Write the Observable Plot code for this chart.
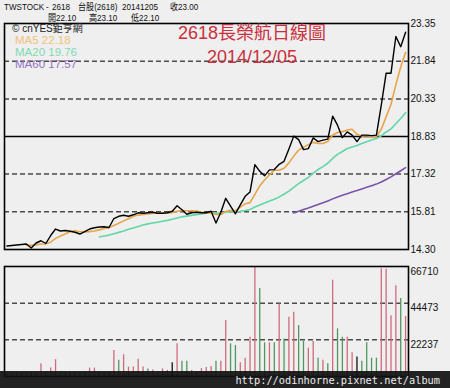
<!DOCTYPE html>
<html><head><meta charset="utf-8">
<script src="https://cdn.jsdelivr.net/npm/d3@7"></script>
<script src="https://cdn.jsdelivr.net/npm/@observablehq/plot@0.6"></script>
<style>
body{margin:0;background:#efefef;}
#wrap{position:relative;width:450px;height:388px;overflow:hidden;background:#efefef;font-family:"Liberation Sans",Arial,"Noto Sans CJK TC",sans-serif;}
#wrap svg{position:absolute;left:0;}
.t{position:absolute;white-space:pre;z-index:2;}
.h{font-size:9.5px;line-height:9px;height:9px;color:#111;transform:scaleX(0.85);transform-origin:0 50%;}
.ma{font-size:11.5px;line-height:12px;left:15px;}
.title{left:152px;width:200px;text-align:center;font-size:18px;line-height:18px;color:#c9303c;}
#foot{position:absolute;left:0;top:371px;width:450px;height:17px;background:rgba(18,18,18,0.93);z-index:3;}
#foot span{position:absolute;right:10px;top:4px;font-family:"DejaVu Sans Mono",monospace;font-size:10.3px;line-height:10px;color:#ececec;}
</style></head><body><div id="wrap">
<div class="t h" style="left:4px;top:2px">TWSTOCK</div>
<div class="t h" style="left:46px;top:2px">-</div>
<div class="t h" style="left:52px;top:2px">2618</div>
<div class="t h" style="left:78px;top:2px">台股(2618)</div>
<div class="t h" style="left:122px;top:2px">20141205</div>
<div class="t h" style="left:170px;top:2px">收23.00</div>
<div class="t h" style="left:48px;top:13px">開22.10</div>
<div class="t h" style="left:89px;top:13px">高23.10</div>
<div class="t h" style="left:131px;top:13px">低22.10</div>
<div class="t" style="left:12px;top:24px;font-size:10px;line-height:10px;color:#222">© cnYES鉅亨網</div>
<div class="t ma" style="top:34px;color:#efc27a">MA5 22.18</div>
<div class="t ma" style="top:46px;color:#7fd9b4">MA20 19.76</div>
<div class="t ma" style="top:58px;color:#9272bf">MA60 17.57</div>
<div class="t title" style="top:24px">2618長榮航日線圖</div>
<div class="t title" style="top:48px">2014/12/05</div>
<div id="foot"><span>http://odinhorne.pixnet.net/album</span></div>
</div>
<script>
// daily closes (83 trading days ending 2014/12/05)
const closes = [14.44,14.46,14.48,14.50,14.52,14.36,14.56,14.65,14.54,14.86,
  15.12,15.04,15.06,15.03,14.99,14.92,15.02,15.12,15.17,15.20,
  15.21,15.18,15.54,15.63,15.67,15.63,15.69,15.77,15.75,15.77,
  15.79,15.75,15.75,15.77,15.83,16.05,15.89,15.71,15.77,15.79,
  15.77,15.77,15.83,15.36,15.79,16.35,16.04,15.73,16.09,16.43,
  16.60,17.70,17.43,17.25,17.49,17.50,17.71,17.83,18.32,18.84,
  18.70,18.30,18.34,18.77,18.62,18.68,18.72,19.64,19.28,18.78,
  19.01,18.88,18.62,18.88,18.88,18.86,18.88,20.08,21.36,21.36,
  22.83,22.42,23.00];
// daily volumes
const volumes = [2600,2900,2400,2700,3000,2800,2500,7800,3000,5100,
  10200,2800,2500,2300,2600,2900,3000,5100,5100,2700,
  2800,2600,15800,9800,13200,5700,5700,10400,5700,4600,
  4000,2900,4600,3700,8400,19800,9200,9200,3700,3000,
  4800,5500,6100,9200,9200,33900,19800,18800,8400,11100,
  23800,66710,53300,20400,20400,20400,43900,22800,35900,38900,
  30900,21200,17200,21200,11100,9800,7800,58400,28900,23800,
  23800,14400,11800,9200,20400,11100,11100,65400,65000,36900,
  55000,47300,36300];
// candle direction of each day
const candles = ["down","up","up","up","up","down","up","up","down","up",
  "up","down","up","down","down","down","up","up","up","up",
  "up","down","up","down","up","up","up","up","up","down",
  "up","down","up","up","flat","up","down","down","up","up",
  "up","up","up","down","up","up","down","down","up","up",
  "up","up","down","down","up","down","up","down","up","up",
  "down","down","up","up","down","up","down","up","down","down",
  "up","up","flat","down","down","down","down","up","up","up",
  "up","down","up"];
const priceTicks = [14.30,15.81,17.32,18.83,20.33,21.84,23.35];
const priceDashed = [15.81,17.32,20.33,21.84];
const priceSolid = [18.83];
const volTicks = [22237,44473,66710];
const volDashed = [22237,44473];

const days = closes.map((c,i)=>({i, close:c, volume:volumes[i], candle:candles[i]}));
const ma = (k, stroke) => Plot.windowY(
  {k, anchor:"end", strict:true, reduce: v => v.length < k ? NaN : d3.mean(v)},
  {x:"i", y:"close", stroke, strokeWidth:1.6});

const font = "Liberation Sans, Arial, sans-serif";
const xDom = [-0.5, 82.6];

const price = Plot.plot({
  width:450, height:260, marginTop:23, marginBottom:11, marginLeft:4, marginRight:42,
  style:{background:"transparent", fontFamily:font, fontSize:"10px", color:"#111", overflow:"visible"},
  x:{type:"linear", domain:xDom, axis:null},
  y:{domain:[14.30,23.35], axis:null},
  marks:[
    Plot.ruleY(priceDashed, {stroke:"#4a4a4a", strokeWidth:1.5, strokeDasharray:"5,3"}),
    Plot.ruleY(priceSolid, {stroke:"#000", strokeWidth:1.5}),
    Plot.line(days, ma(60, "#7a52ab")),
    Plot.line(days, ma(20, "#62d6a6")),
    Plot.line(days, ma(5, "#e8a548")),
    Plot.line(days, {x:"i", y:"close", stroke:"#000", strokeWidth:1.4}),
    Plot.frame({stroke:"#000", strokeWidth:1.6}),
    Plot.text(priceTicks, {y:d=>d, frameAnchor:"right", dx:2, textAnchor:"start", text:d=>d.toFixed(2), fill:"#111"})
  ]
});
price.style.top = "0px";

const vol = Plot.plot({
  width:450, height:128, marginTop:6, marginBottom:12, marginLeft:4, marginRight:42,
  style:{background:"transparent", fontFamily:font, fontSize:"10px", color:"#111", overflow:"visible"},
  x:{type:"linear", domain:xDom, axis:null},
  y:{domain:[0,66710], axis:null},
  color:{domain:["up","down","flat"], range:["#cf6b7d","#4f9760","#111111"]},
  marks:[
    Plot.ruleY(volDashed, {stroke:"#4a4a4a", strokeWidth:1.5, strokeDasharray:"5,3"}),
    Plot.ruleX(days, {x:"i", y1:0, y2:"volume", stroke:"candle", strokeWidth:1.3}),
    Plot.frame({stroke:"#000", strokeWidth:1.6}),
    Plot.text(volTicks, {y:d=>d, frameAnchor:"right", dx:2, dy:5, textAnchor:"start", text:d=>String(d), fill:"#111"})
  ]
});
vol.style.top = "260px";

const wrap = document.getElementById("wrap");
wrap.insertBefore(vol, wrap.firstChild);
wrap.insertBefore(price, wrap.firstChild);
</script>
</body></html>
